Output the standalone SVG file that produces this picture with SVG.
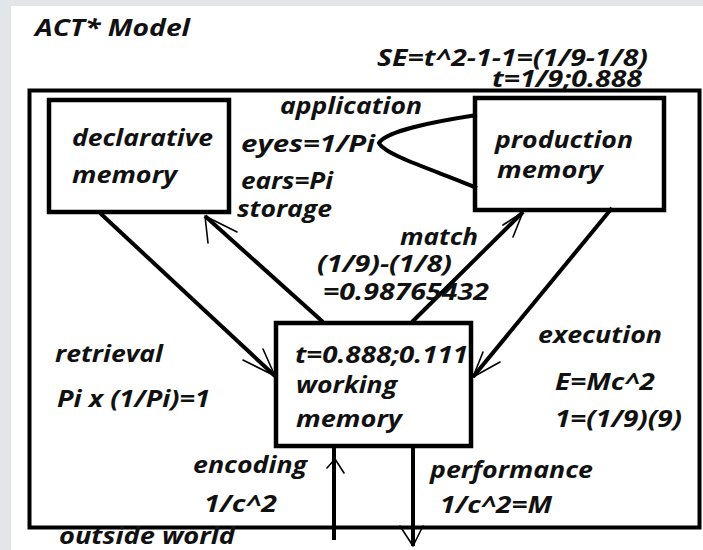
<svg xmlns="http://www.w3.org/2000/svg" width="703" height="550" viewBox="0 0 703 550">
<style>
.t{font-family:"Open Sans","Noto Sans","Liberation Sans",sans-serif;font-weight:bold;font-style:italic;font-size:24px;fill:#111}
.box{fill:#fff;stroke:#000;stroke-width:4.5}
.ln{fill:none;stroke:#000;stroke-width:4;stroke-linecap:butt}
.ah{fill:none;stroke:#000;stroke-width:1.6;stroke-linecap:round;stroke-linejoin:round}
</style>
<rect x="0" y="0" width="703" height="550" fill="#e2e6e8"/>
<rect x="11" y="6" width="692" height="544" fill="#fff"/>
<rect x="29.5" y="90.5" width="670" height="437" fill="none" stroke="#000" stroke-width="4"/>
<text class="t" x="35" y="36" textLength="155" lengthAdjust="spacingAndGlyphs">ACT* Model</text>
<text class="t" x="377" y="66" textLength="271" lengthAdjust="spacingAndGlyphs">SE=t^2-1-1=(1/9-1/8)</text>
<text class="t" x="492" y="87" textLength="150" lengthAdjust="spacingAndGlyphs">t=1/9;0.888</text>
<g id="declarative">
<rect class="box" x="49" y="100" width="180" height="112"/>
<text class="t" x="72" y="146" textLength="141" lengthAdjust="spacingAndGlyphs">declarative</text>
<text class="t" x="72" y="183" textLength="105" lengthAdjust="spacingAndGlyphs">memory</text>
</g>
<g id="production">
<rect class="box" x="475" y="98" width="189" height="112"/>
<text class="t" x="495" y="148" textLength="138" lengthAdjust="spacingAndGlyphs">production</text>
<text class="t" x="497" y="178" textLength="106" lengthAdjust="spacingAndGlyphs">memory</text>
</g>
<g id="working">
<rect class="box" x="276" y="323" width="195" height="123"/>
<text class="t" x="295" y="363" textLength="173" lengthAdjust="spacingAndGlyphs">t=0.888;0.111</text>
<text class="t" x="296" y="393" textLength="101" lengthAdjust="spacingAndGlyphs">working</text>
<text class="t" x="296" y="427" textLength="106" lengthAdjust="spacingAndGlyphs">memory</text>
</g>
<g id="connectors">
<path class="ln" d="M100,213 L275,376"/>
<path class="ah" d="M243,360 L275,376 M263,349 L275,376"/>
<path class="ln" d="M323,322 L205,216"/>
<path class="ah" d="M208,243 L205,216 L237,232"/>
<path class="ln" d="M412,322 L523,212"/>
<path class="ah" d="M503,225 L523,212 L513,237"/>
<path class="ln" d="M612,208 L473,377"/>
<path class="ah" d="M483,352 L473,377 L500,362"/>
<path class="ln" d="M334,540 L334,446"/>
<path class="ah" d="M327,468 L335,459 L344,473"/>
<path class="ln" d="M413,446 L413,546"/>
<path class="ah" d="M400,526 L413,546 L423,526"/>
<path class="ln" stroke-width="3" d="M477,115 C430,122 385,132 379,143 C386,156 440,172 477,188"/>
</g>
<text class="t" x="280" y="114" textLength="142" lengthAdjust="spacingAndGlyphs">application</text>
<text class="t" x="241" y="152" textLength="134" lengthAdjust="spacingAndGlyphs">eyes=1/Pi</text>
<text class="t" x="241" y="189" textLength="92" lengthAdjust="spacingAndGlyphs">ears=Pi</text>
<text class="t" x="237" y="217" textLength="95" lengthAdjust="spacingAndGlyphs">storage</text>
<text class="t" x="400" y="245" textLength="78" lengthAdjust="spacingAndGlyphs">match</text>
<text class="t" x="317" y="272" textLength="135" lengthAdjust="spacingAndGlyphs">(1/9)-(1/8)</text>
<text class="t" x="323" y="300" textLength="166" lengthAdjust="spacingAndGlyphs">=0.98765432</text>
<text class="t" x="55" y="362" textLength="108" lengthAdjust="spacingAndGlyphs">retrieval</text>
<text class="t" x="57" y="407" textLength="153" lengthAdjust="spacingAndGlyphs">Pi x (1/Pi)=1</text>
<text class="t" x="538" y="343" textLength="124" lengthAdjust="spacingAndGlyphs">execution</text>
<text class="t" x="555" y="390" textLength="100" lengthAdjust="spacingAndGlyphs">E=Mc^2</text>
<text class="t" x="555" y="427" textLength="127" lengthAdjust="spacingAndGlyphs">1=(1/9)(9)</text>
<text class="t" x="193" y="473" textLength="114" lengthAdjust="spacingAndGlyphs">encoding</text>
<text class="t" x="204" y="512" textLength="73" lengthAdjust="spacingAndGlyphs">1/c^2</text>
<text class="t" x="430" y="478" textLength="163" lengthAdjust="spacingAndGlyphs">performance</text>
<text class="t" x="440" y="513" textLength="112" lengthAdjust="spacingAndGlyphs">1/c^2=M</text>
<text class="t" x="59" y="544" textLength="176" lengthAdjust="spacingAndGlyphs">outside world</text>
</svg>
